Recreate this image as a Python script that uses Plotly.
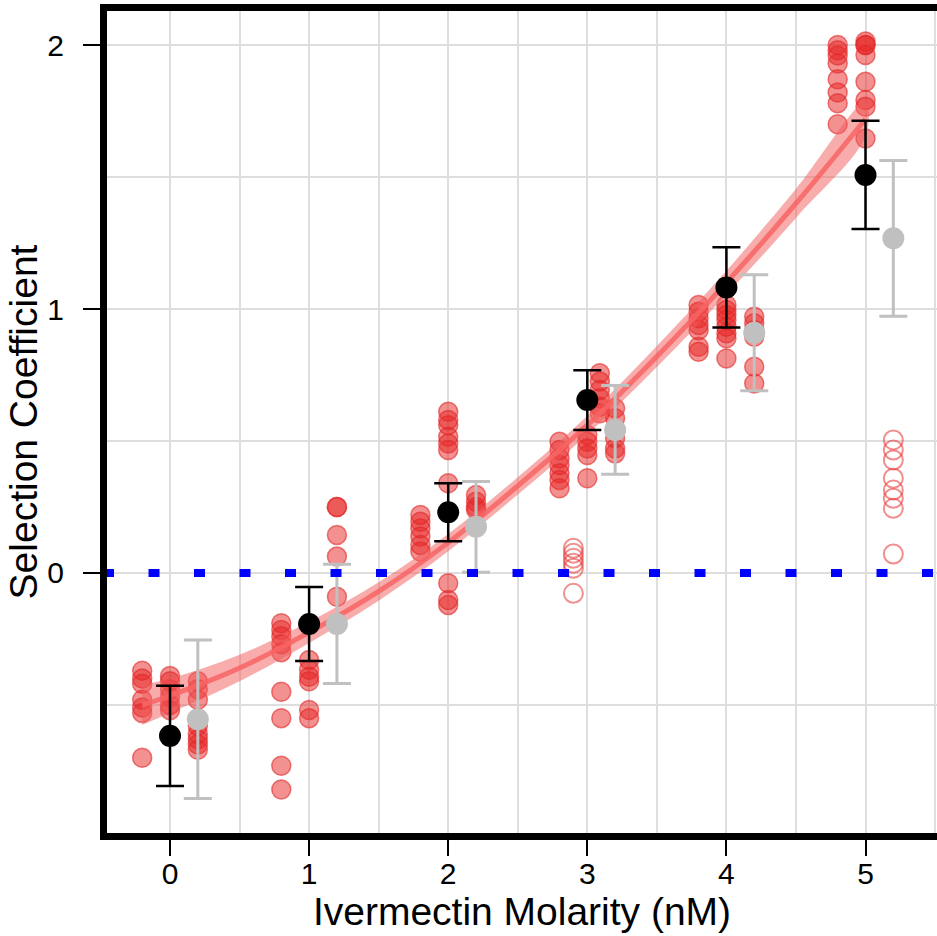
import plotly.graph_objects as go

# ---------------- data ----------------
conc = [0, 1, 2, 3, 4, 5]

# replicate A (plotted left of each concentration)
rep_a = [
    [-0.37, -0.40, -0.42, -0.48, -0.51, -0.53, -0.70],
    [-0.19, -0.216, -0.24, -0.27, -0.30, -0.45, -0.55, -0.73, -0.82],
    [0.22, 0.194, 0.169, 0.138, 0.106, 0.081],
    [0.497, 0.466, 0.434, 0.409, 0.378, 0.352, 0.321],
    [1.015, 0.99, 0.965, 0.939, 0.92, 0.857, 0.838],
    [2.0, 1.98, 1.96, 1.93, 1.87, 1.82, 1.78, 1.70],
]
# replicate B (at each concentration)
rep_b = [
    [-0.39, -0.41, -0.44, -0.47, -0.50, -0.52],
    [-0.33, -0.367, -0.393, -0.41, -0.519, -0.55],
    [0.611, 0.58, 0.56, 0.516, 0.491, 0.466, 0.34, -0.039, -0.102, -0.121],
    [0.523, 0.497, 0.472, 0.447, 0.359],
    [1.015, 0.996, 0.977, 0.958, 0.933, 0.908, 0.889, 0.813],
    [2.013, 2.0, 2.0, 1.962, 1.861, 1.792, 1.766, 1.646],
]
# replicate C (plotted right of each concentration); none filled at 5 nM
rep_c = [
    [-0.41, -0.44, -0.48, -0.58, -0.61, -0.63, -0.65, -0.67],
    [0.25, 0.25, 0.144, 0.062, -0.09],
    [0.295, 0.27, 0.25, 0.24],
    [0.624, 0.586, 0.51, 0.472, 0.453],
    [0.971, 0.946, 0.92, 0.895, 0.781, 0.718],
    [],
]
# extra replicate seen at 3 nM
rep_d_conc = [3]
rep_d = [[0.757, 0.725, 0.693, 0.662, 0.63, 0.605]]

# excluded (open circle) measurements
excl_conc = [3, 5]
excl_vals = [
    [0.094, 0.075, 0.056, 0.037, 0.018, -0.077],
    [0.504, 0.466, 0.428, 0.359, 0.314, 0.283, 0.245, 0.072],
]

# summary means with error
mean_all = [-0.617, -0.193, 0.23, 0.655, 1.082, 1.508]
err_all = [0.19, 0.14, 0.11, 0.113, 0.152, 0.205]
mean_alt = [-0.554, -0.193, 0.175, 0.542, 0.91, 1.268]
err_alt = [0.30, 0.226, 0.172, 0.168, 0.22, 0.295]

# fitted curve and confidence band
fit_x = [-0.2, 0, 0.5, 1, 1.5, 2, 2.5, 3, 3.5, 4, 4.5, 5]
fit_y = [-0.50, -0.465, -0.36, -0.225, -0.07, 0.115, 0.33, 0.56, 0.82, 1.10, 1.40, 1.72]
fit_lo = [-0.575, -0.53, -0.41, -0.265, -0.105, 0.082, 0.297, 0.525, 0.78, 1.055, 1.345, 1.655]
fit_hi = [-0.425, -0.40, -0.31, -0.185, -0.035, 0.148, 0.363, 0.595, 0.86, 1.145, 1.455, 1.785]

x_ticks = [0, 1, 2, 3, 4, 5]
y_ticks = [0, 1, 2]

# ---------------- styling ----------------
DODGE = 0.2
RED_FILL = "rgba(232,35,35,0.5)"
RED_LINE = "rgba(225,40,40,0.6)"
FONT = "Liberation Sans, Arial, sans-serif"

fig = go.Figure()


def add_points(xs, ys):
    fig.add_trace(go.Scatter(
        x=xs, y=ys, mode="markers", showlegend=False, hoverinfo="skip",
        marker=dict(size=19, color=RED_FILL, line=dict(color=RED_LINE, width=1.5)),
    ))


for offset, rep in [(-DODGE, rep_a), (0.0, rep_b), (DODGE, rep_c)]:
    xs, ys = [], []
    for c, vals in zip(conc, rep):
        xs += [c + offset] * len(vals)
        ys += vals
    add_points(xs, ys)

xs, ys = [], []
for c, vals in zip(rep_d_conc, rep_d):
    xs += [c + 0.09] * len(vals)
    ys += vals
add_points(xs, ys)

# open circles
excl_offsets = [-0.1, DODGE]
xs, ys = [], []
for c, off, vals in zip(excl_conc, excl_offsets, excl_vals):
    xs += [c + off] * len(vals)
    ys += vals
fig.add_trace(go.Scatter(
    x=xs, y=ys, mode="markers", showlegend=False, hoverinfo="skip",
    marker=dict(size=19, symbol="circle-open", color="rgba(230,50,50,0.55)",
                line=dict(width=2)),
))

# confidence band
fig.add_trace(go.Scatter(
    x=fit_x + fit_x[::-1], y=fit_hi + fit_lo[::-1], mode="lines",
    line=dict(width=0, shape="spline"), fill="toself",
    fillcolor="rgba(242,90,90,0.5)", showlegend=False, hoverinfo="skip",
))
fig.add_trace(go.Scatter(
    x=fit_x, y=fit_y, mode="lines", line=dict(color="rgba(248,100,100,0.85)", width=5, shape="spline"),
    showlegend=False, hoverinfo="skip",
))

# gray means
fig.add_trace(go.Scatter(
    x=[c + DODGE for c in conc], y=mean_alt, mode="markers", showlegend=False,
    marker=dict(size=22, color="rgb(192,192,192)"),
    error_y=dict(type="data", array=err_alt, color="rgb(192,192,192)", thickness=3, width=14),
))
# black means
fig.add_trace(go.Scatter(
    x=conc, y=mean_all, mode="markers", showlegend=False,
    marker=dict(size=22, color="black"),
    error_y=dict(type="data", array=err_all, color="black", thickness=2.5, width=14),
))

# zero reference line (blue square dots)
fig.add_shape(type="line", xref="x", yref="y", x0=-0.4817, x1=5.52, y0=0, y1=0,
              line=dict(color="#0000ff", width=8, dash="11px,34.5px"), layer="above")

grid = "rgb(222,222,222)"
fig.update_layout(
    width=937, height=936,
    margin=dict(l=107, r=0, t=11, b=103),
    paper_bgcolor="white", plot_bgcolor="white",
    font=dict(family=FONT, color="black"),
    xaxis=dict(
        range=[-0.453, 5.514], tickvals=x_ticks, ticktext=[str(v) for v in x_ticks],
        ticks="outside", ticklen=16, tickwidth=2, tickcolor="black",
        tickfont=dict(size=30, family=FONT), ticklabelstandoff=-8,
        showline=True, linewidth=7, linecolor="black", mirror=True,
        showgrid=True, gridcolor=grid, gridwidth=1.5,
        minor=dict(dtick=0.5, tick0=0, showgrid=True, gridcolor=grid, gridwidth=1.5),
        zeroline=False,
        title=dict(text="Ivermectin Molarity (nM)", font=dict(size=39, family=FONT), standoff=10),
    ),
    yaxis=dict(
        range=[-0.985, 2.129], tickvals=y_ticks, ticktext=[str(v) for v in y_ticks],
        ticks="outside", ticklen=17, tickwidth=2, tickcolor="black",
        tickfont=dict(size=30, family=FONT), ticklabelstandoff=13,
        showline=True, linewidth=7, linecolor="black",
        showgrid=True, gridcolor=grid, gridwidth=1.5,
        minor=dict(dtick=0.5, tick0=0, showgrid=True, gridcolor=grid, gridwidth=1.5),
        zeroline=False,
        title=dict(text="Selection Coefficient", font=dict(size=39, family=FONT), standoff=0),
    ),
)

fig.write_html(
    "out.html",
    config={"displayModeBar": False},
    post_script="document.body.style.margin='0';document.body.style.padding='0';"
                "document.body.style.overflow='hidden';",
)
